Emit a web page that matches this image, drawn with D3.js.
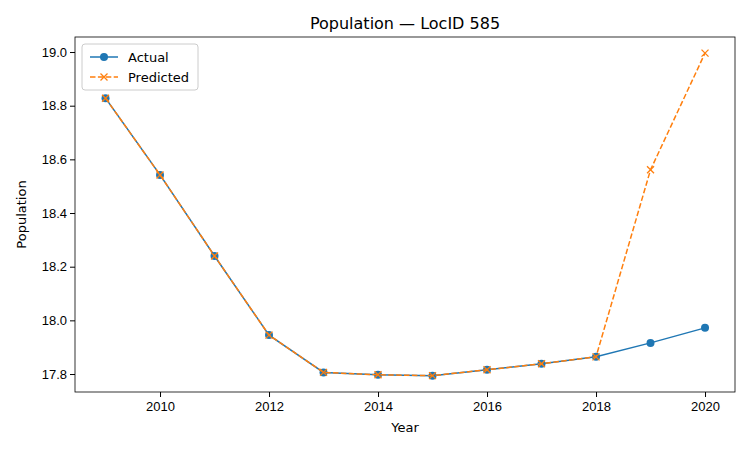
<!DOCTYPE html>
<html><head><meta charset="utf-8">
<script src="https://cdn.jsdelivr.net/npm/d3@7"></script>
<style>body{margin:0;background:#fff;font-family:"DejaVu Sans",sans-serif}</style>
</head><body><svg id="c" width="750" height="450"></svg>
<script>
const years = [2009,2010,2011,2012,2013,2014,2015,2016,2017,2018,2019,2020];
const actual = [18.828,18.542,18.240,17.945,17.806,17.797,17.794,17.816,17.838,17.864,17.916,17.972];
const predicted = [18.828,18.542,18.240,17.945,17.806,17.797,17.794,17.816,17.838,17.864,18.561,18.996];
const xTicks = [2010,2012,2014,2016,2018,2020];
const yTicks = [17.8,18.0,18.2,18.4,18.6,18.8,19.0];

const m = {left:75, right:15, top:37, bottom:58};
const W = 750, H = 450;
const svg = d3.select("#c");
const x = d3.scaleLinear().domain([2008.44,2020.55]).range([m.left, W-m.right]);
const y = d3.scaleLinear().domain([17.733,19.056]).range([H-m.bottom, m.top]);

svg.append("g").attr("transform","translate(0,"+(H-m.bottom)+")")
  .call(d3.axisBottom(x).tickValues(xTicks).tickFormat(d3.format("d")).tickSizeOuter(0).tickSize(5))
  .call(g=>g.selectAll("text").attr("font-size",13).attr("dy","0.85em"));
svg.append("g").attr("transform","translate("+m.left+",0)")
  .call(d3.axisLeft(y).tickValues(yTicks).tickFormat(d3.format(".1f")).tickSizeOuter(0).tickSize(5))
  .call(g=>g.selectAll("text").attr("font-size",13));
svg.selectAll(".domain").remove();
svg.append("rect").attr("x",m.left).attr("y",m.top).attr("width",W-m.left-m.right)
  .attr("height",H-m.top-m.bottom).attr("fill","none").attr("stroke","#000").attr("stroke-width",0.8);

const line = d3.line().x((d,i)=>x(years[i])).y(d=>y(d));
svg.append("path").datum(actual).attr("d",line).attr("fill","none").attr("stroke","#1f77b4").attr("stroke-width",1.5);
svg.selectAll(".pa").data(actual).join("circle").attr("cx",(d,i)=>x(years[i])).attr("cy",d=>y(d)).attr("r",4).attr("fill","#1f77b4");
svg.append("path").datum(predicted).attr("d",line).attr("fill","none").attr("stroke","#ff7f0e").attr("stroke-width",1.5).attr("stroke-dasharray","5.5,2.4");
const cross = (g,cx,cy,s)=>g.append("path").attr("d",`M${cx-s},${cy-s}L${cx+s},${cy+s}M${cx-s},${cy+s}L${cx+s},${cy-s}`).attr("stroke","#ff7f0e").attr("stroke-width",1.3);
predicted.forEach((d,i)=>cross(svg,x(years[i]),y(d),3.5));

svg.append("text").attr("x",(m.left+W-m.right)/2).attr("y",29).attr("text-anchor","middle").attr("font-size",16).text("Population — LocID 585");
svg.append("text").attr("x",(m.left+W-m.right)/2).attr("y",432).attr("text-anchor","middle").attr("font-size",13).text("Year");
svg.append("text").attr("transform","translate(26,"+((m.top+H-m.bottom)/2)+") rotate(-90)").attr("text-anchor","middle").attr("font-size",13).text("Population");

const lg = svg.append("g").attr("transform","translate(82,44)");
lg.append("rect").attr("width",116).attr("height",46).attr("rx",3).attr("fill","#fff").attr("stroke","#ccc");
lg.append("line").attr("x1",8).attr("x2",36).attr("y1",13).attr("y2",13).attr("stroke","#1f77b4").attr("stroke-width",1.5);
lg.append("circle").attr("cx",22).attr("cy",13).attr("r",4).attr("fill","#1f77b4");
lg.append("text").attr("x",46).attr("y",17.5).attr("font-size",13).text("Actual");
lg.append("line").attr("x1",8).attr("x2",36).attr("y1",33).attr("y2",33).attr("stroke","#ff7f0e").attr("stroke-width",1.5).attr("stroke-dasharray","5.5,2.4");
cross(lg,22,33,3.5);
lg.append("text").attr("x",46).attr("y",37.5).attr("font-size",13).text("Predicted");
</script></body></html>
